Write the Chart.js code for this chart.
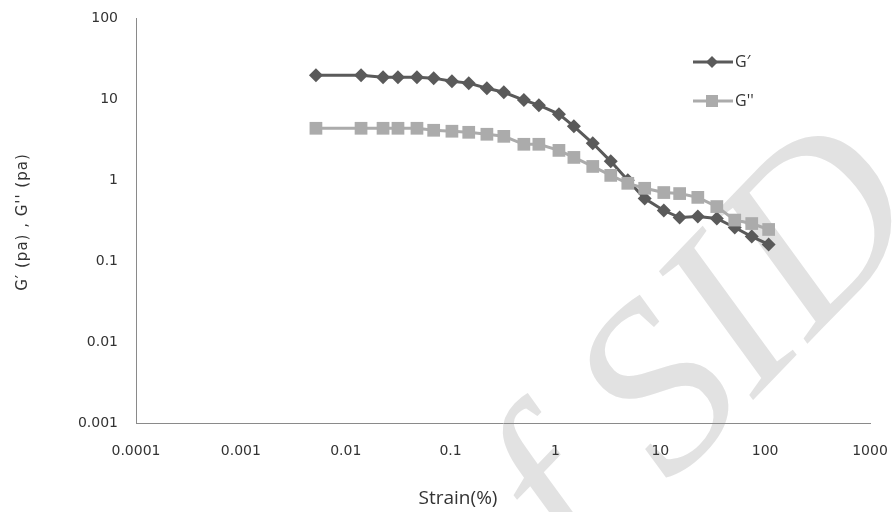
<!DOCTYPE html>
<html>
<head>
<meta charset="utf-8">
<script src="https://cdn.jsdelivr.net/npm/chart.js@4/dist/chart.umd.min.js"></script>
<style>
    html, body { margin: 0; padding: 0; background: #fff; }
    #wrap { width: 894px; height: 512px; position: relative; }
</style>
</head>
<body>
<div id="wrap"><canvas id="chart"></canvas></div>
<script>
"use strict";

/**----------------------------------------------------------------------
 * [Chart data]
 *--------------------------------------------------------------*/
const strain = [0.0052, 0.014, 0.0227, 0.0315, 0.0478, 0.069, 0.103, 0.149, 0.222, 0.322,
    0.5, 0.695, 1.08, 1.5, 2.27, 3.37, 4.9, 7.1, 10.8, 15.3, 22.8, 34.6, 51.3, 74.5, 108];

const gPrime = [19.7, 19.7, 18.6, 18.6, 18.6, 18.1, 16.6, 15.7, 13.6, 12.1,
    9.7, 8.4, 6.5, 4.6, 2.84, 1.70, 0.99, 0.59, 0.42, 0.344, 0.355, 0.335, 0.259, 0.20, 0.16];

const gDouble = [4.35, 4.35, 4.35, 4.35, 4.35, 4.11, 4.0, 3.88, 3.67, 3.46,
    2.76, 2.76, 2.32, 1.90, 1.47, 1.14, 0.91, 0.79, 0.70, 0.68, 0.61, 0.47, 0.32, 0.29, 0.245];

const xTicks = [0.0001, 0.001, 0.01, 0.1, 1, 10, 100, 1000];
const xTickLabels = ['0.0001', '0.001', '0.01', '0.1', '1', '10', '100', '1000'];
const yTicks = [0.001, 0.01, 0.1, 1, 10, 100];
const yTickLabels = ['0.001', '0.01', '0.1', '1', '10', '100'];

const seriesNames = ['G\u2032', "G''"];
const xTitle = 'Strain(%)';
const yTitle = "G\u2032 (pa) , G'' (pa)";
const watermark = 'of SID';

/**----------------------------------------------------------------------
 * [Colors and fonts]
 *--------------------------------------------------------------*/
const darkGrey = '#5a5a5a';
const lightGrey = '#ababab';
const axisGrey = '#8a8a8a';
const textColor = '#333333';
const tickFont = { family: 'DejaVu Sans', size: 14 };

/**----------------------------------------------------------------------
 * [Build points from the arrays]
 *--------------------------------------------------------------*/
function points(values) {
    return strain.map(function(x, i) { return { x: x, y: values[i] }; });
}

/**----------------------------------------------------------------------
 * [Watermark drawn behind the chart]
 *--------------------------------------------------------------*/
const watermarkPlugin = {
    id: 'watermark',
    beforeDraw: function(chart) {
        const ctx = chart.ctx;
        ctx.save();
        ctx.translate(499, 663);
        ctx.rotate(-46 * Math.PI / 180);
        ctx.font = 'italic 240px "Liberation Serif"';
        ctx.fillStyle = '#e2e2e2';
        ctx.textBaseline = 'alphabetic';
        ctx.fillText(watermark, 0, 0);
        ctx.restore();
    }
};

/**----------------------------------------------------------------------
 * [Axis titles and legend, drawn like the original figure]
 *--------------------------------------------------------------*/
const decorPlugin = {
    id: 'decor',
    afterDraw: function(chart) {
        const ctx = chart.ctx;
        ctx.save();

        // x title
        ctx.fillStyle = textColor;
        ctx.font = '19px "Open Sans"';
        ctx.textAlign = 'center';
        ctx.textBaseline = 'middle';
        ctx.fillText(xTitle, 458, 499);

        // y title
        ctx.save();
        ctx.translate(23, 222);
        ctx.rotate(-Math.PI / 2);
        ctx.font = '15px "DejaVu Sans"';
        ctx.letterSpacing = '1px';
        ctx.fillText(yTitle, 0, 0);
        ctx.restore();

        // legend
        const rows = [
            { y: 62, color: darkGrey, style: 'diamond', label: seriesNames[0] },
            { y: 101, color: lightGrey, style: 'square', label: seriesNames[1] }
        ];
        rows.forEach(function(r) {
            ctx.strokeStyle = r.color;
            ctx.lineWidth = 3;
            ctx.beginPath();
            ctx.moveTo(693, r.y);
            ctx.lineTo(733, r.y);
            ctx.stroke();
            ctx.fillStyle = r.color;
            ctx.beginPath();
            if (r.style === 'diamond') {
                ctx.moveTo(712, r.y - 6);
                ctx.lineTo(718, r.y);
                ctx.lineTo(712, r.y + 6);
                ctx.lineTo(706, r.y);
                ctx.closePath();
            } else {
                ctx.rect(706, r.y - 6, 12, 12);
            }
            ctx.fill();
            ctx.fillStyle = textColor;
            ctx.font = '16px "Open Sans"';
            ctx.textAlign = 'left';
            ctx.textBaseline = 'middle';
            ctx.fillText(r.label, 735, r.y);
        });

        ctx.restore();
    }
};

/**----------------------------------------------------------------------
 * [Chart]
 *--------------------------------------------------------------*/
new Chart(document.getElementById('chart').getContext('2d'), {
    type: 'scatter',
    data: {
        datasets: [
            {
                label: seriesNames[0],
                data: points(gPrime),
                showLine: true,
                borderColor: darkGrey,
                backgroundColor: darkGrey,
                borderWidth: 3,
                pointStyle: 'rectRot',
                pointRadius: 7,
                pointBorderWidth: 0,
                tension: 0,
                order: 1
            },
            {
                label: seriesNames[1],
                data: points(gDouble),
                showLine: true,
                borderColor: lightGrey,
                backgroundColor: lightGrey,
                borderWidth: 3,
                pointStyle: 'rect',
                pointRadius: 9,
                pointBorderWidth: 0,
                tension: 0,
                order: 0
            }
        ]
    },
    options: {
        responsive: true,
        maintainAspectRatio: false,
        animation: false,
        layout: {
            padding: { left: 0, right: 24, top: 18, bottom: 0 }
        },
        plugins: {
            legend: { display: false },
            tooltip: { enabled: false }
        },
        scales: {
            x: {
                type: 'logarithmic',
                min: 0.0001,
                max: 1000,
                grid: { display: false, drawTicks: false },
                border: { display: true, color: axisGrey, width: 1 },
                afterBuildTicks: function(scale) {
                    scale.ticks = xTicks.map(function(v) { return { value: v }; });
                },
                ticks: {
                    autoSkip: false,
                    maxRotation: 0,
                    padding: 20,
                    color: textColor,
                    font: tickFont,
                    callback: function(value) {
                        return xTickLabels[xTicks.indexOf(value)];
                    }
                },
                afterFit: function(scale) {
                    scale.height = 89;
                    scale.paddingLeft = 0;
                    scale.paddingRight = 0;
                }
            },
            y: {
                type: 'logarithmic',
                min: 0.001,
                max: 100,
                grid: { display: false, drawTicks: false },
                border: { display: true, color: axisGrey, width: 1 },
                afterBuildTicks: function(scale) {
                    scale.ticks = yTicks.map(function(v) { return { value: v }; });
                },
                ticks: {
                    autoSkip: false,
                    padding: 18,
                    color: textColor,
                    font: tickFont,
                    callback: function(value) {
                        return yTickLabels[yTicks.indexOf(value)];
                    }
                },
                afterFit: function(scale) {
                    scale.width = 136;
                    scale.paddingTop = 0;
                    scale.paddingBottom = 0;
                }
            }
        }
    },
    plugins: [watermarkPlugin, decorPlugin]
});
</script>
</body>
</html>
